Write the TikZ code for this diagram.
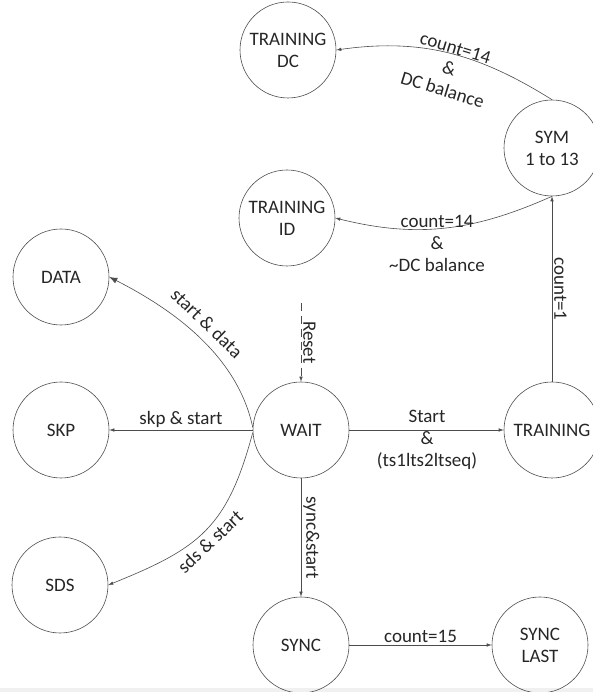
\documentclass[tikz,border=0pt]{standalone}
\usepackage{fontspec}
\setmainfont{Carlito}
\usetikzlibrary{arrows.meta}
\begin{document}
\begin{tikzpicture}[x=1pt,y=1pt,
  state/.style={circle, draw=black!70, line width=0.6pt, minimum size=96pt,
    inner sep=0pt, align=center, font=\fontsize{19}{22}\selectfont, text=black!85},
  tr/.style={draw=black!70, line width=0.6pt, -{Latex[length=5pt,width=3.5pt]}},
  bigtip/.style={-{Latex[length=8pt,width=6pt]}},
  lbl/.style={font=\fontsize{19}{22}\selectfont, text=black!85, inner sep=2pt, align=center}]

\fill[black!6] (0,0) rectangle (593,4);
\useasboundingbox (0,0) rectangle (593,692);

% states
\node[state] (tdc)      at (288,642) {TRAINING\\DC};
\node[state] (sym)      at (552,544) {SYM\\1 to 13};
\node[state] (tid)      at (287,474) {TRAINING\\ID};
\node[state] (data)     at (61,415)  {DATA};
\node[state] (skp)      at (61,262)  {SKP};
\node[state] (wait)     at (301,262) {WAIT};
\node[state] (training) at (552,262) {TRAINING};
\node[state] (sds)      at (60,107)  {SDS};
\node[state] (sync)     at (301,47)  {SYNC};
\node[state] (synclast) at (540,47)  {SYNC\\LAST};

\coordinate (rst) at (301,389);

% transitions
\draw[tr, dash pattern=on 8pt off 5pt] (rst) -- node[lbl, midway, rotate=-90, anchor=south] {Reset} (wait.north);
\draw[tr, bigtip] (wait.177) to[out=102, in=-27, looseness=0.9] (data.east);
\draw[tr] (wait.west) -- node[lbl, midway, above] {skp \& start} (skp.east);
\draw[tr] (wait.183) to[out=255, in=22, looseness=1.2] (sds.east);
\draw[tr] (wait.east) -- (training.west);
\draw[tr] (wait.south) -- node[lbl, midway, rotate=-90, anchor=south] {sync\&start} (sync.north);
\draw[tr] (sync.east) -- node[lbl, midway, above] {count=15} (synclast.west);
\draw[tr] (training.north) -- node[lbl, midway, rotate=-90, anchor=south] {count=1} (sym.south);
\draw[tr] (sym.south) to[out=204, in=-14] (tid.east);
\draw[tr] (sym.north) to[out=148, in=8] (tdc.east);

% transition conditions
\node[lbl, rotate=-44] (ldata) at (207,369) {start \& data};
\node[lbl, rotate=43.5] (lsds) at (210,150) {sds \& start};
\node[lbl] (ltrain) at (427,252) {Start\\\&\\(ts1lts2ltseq)};
\node[lbl] (ltid) at (437,449) {count=14\\\&\\\textasciitilde DC balance};
\node[lbl, rotate=-17] (ltdc) at (449,623) {count=14\\\&\\DC balance};
\end{tikzpicture}
\end{document}
